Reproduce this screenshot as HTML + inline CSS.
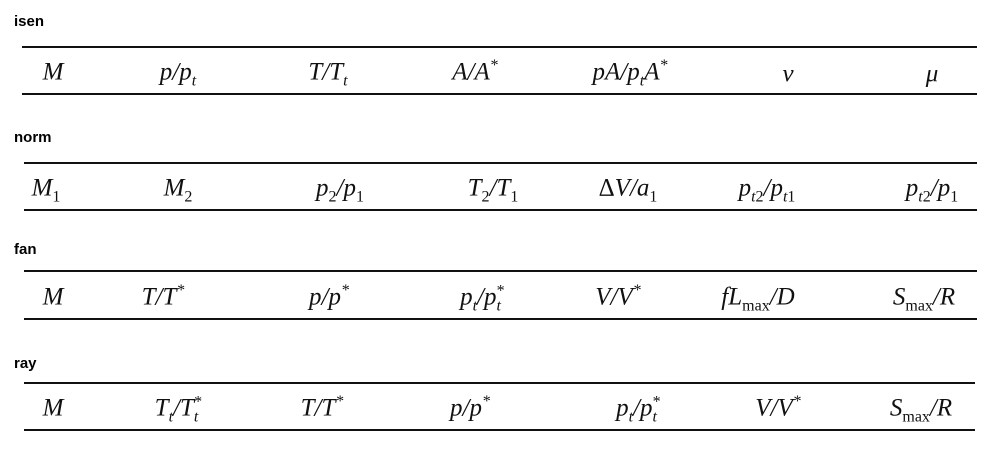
<!DOCTYPE html>
<html><head><meta charset="utf-8"><style>
body{margin:0;width:997px;height:453px;background:#fff;position:relative;overflow:hidden;font-family:"Liberation Serif",serif}
.t{position:absolute;left:14px;font:bold 15px "Liberation Sans","DejaVu Sans",sans-serif;color:#000}
.l{position:absolute;height:2px;background:#111}
.c{position:absolute;transform:translate(-50%,-50%);font-style:italic;font-size:25px;white-space:nowrap;color:#111;line-height:1}
sub,sup{font-size:16px;line-height:0}
.r{font-style:normal}
</style></head><body>
<div class="t" style="top:13px">isen</div>
<div class="l" style="left:22px;width:955px;top:46px"></div>
<div class="l" style="left:22px;width:955px;top:93px"></div>
<div>
<span class="c" style="left:53px;top:72px">M</span>
<span class="c" style="left:178px;top:72px">p/p<sub>t</sub></span>
<span class="c" style="left:328px;top:72px">T/T<sub>t</sub></span>
<span class="c" style="left:475px;top:72px">A/A<sup>*</sup></span>
<span class="c" style="left:630px;top:72px">pA/p<sub>t</sub>A<sup>*</sup></span>
<span class="c" style="left:788px;top:74px">ν</span>
<span class="c" style="left:932px;top:74px">μ</span>
</div>

<div class="t" style="top:129px">norm</div>
<div class="l" style="left:24px;width:953px;top:162px"></div>
<div class="l" style="left:24px;width:953px;top:209px"></div>
<div>
<span class="c" style="left:46px;top:188px">M<sub class="r">1</sub></span>
<span class="c" style="left:178px;top:188px">M<sub class="r">2</sub></span>
<span class="c" style="left:340px;top:188px">p<sub class="r">2</sub>/p<sub class="r">1</sub></span>
<span class="c" style="left:493px;top:188px">T<sub class="r">2</sub>/T<sub class="r">1</sub></span>
<span class="c" style="left:628px;top:188px"><span class="r">Δ</span>V/a<sub class="r">1</sub></span>
<span class="c" style="left:767px;top:188px">p<sub>t<span class="r">2</span></sub>/p<sub>t<span class="r">1</span></sub></span>
<span class="c" style="left:932px;top:188px">p<sub>t<span class="r">2</span></sub>/p<sub class="r">1</sub></span>
</div>

<div class="t" style="top:241px">fan</div>
<div class="l" style="left:24px;width:953px;top:270px"></div>
<div class="l" style="left:24px;width:953px;top:318px"></div>
<div>
<span class="c" style="left:53px;top:297px">M</span>
<span class="c" style="left:163px;top:297px">T/T<sup>*</sup></span>
<span class="c" style="left:329px;top:297px">p/p<sup>*</sup></span>
<span class="c" style="left:482px;top:297px">p<sub>t</sub>/p<sub>t</sub><sup style="margin-left:-5px">*</sup></span>
<span class="c" style="left:618px;top:297px">V/V<sup>*</sup></span>
<span class="c" style="left:758px;top:297px">fL<sub class="r">max</sub>/D</span>
<span class="c" style="left:924px;top:297px">S<sub class="r">max</sub>/R</span>
</div>

<div class="t" style="top:355px">ray</div>
<div class="l" style="left:24px;width:951px;top:382px"></div>
<div class="l" style="left:24px;width:951px;top:429px"></div>
<div>
<span class="c" style="left:53px;top:408px">M</span>
<span class="c" style="left:178px;top:408px">T<sub>t</sub>/T<sub>t</sub><sup style="margin-left:-5px">*</sup></span>
<span class="c" style="left:322px;top:408px">T/T<sup>*</sup></span>
<span class="c" style="left:470px;top:408px">p/p<sup>*</sup></span>
<span class="c" style="left:638px;top:408px">p<sub>t</sub>/p<sub>t</sub><sup style="margin-left:-5px">*</sup></span>
<span class="c" style="left:778px;top:408px">V/V<sup>*</sup></span>
<span class="c" style="left:921px;top:408px">S<sub class="r">max</sub>/R</span>
</div>
</body></html>
